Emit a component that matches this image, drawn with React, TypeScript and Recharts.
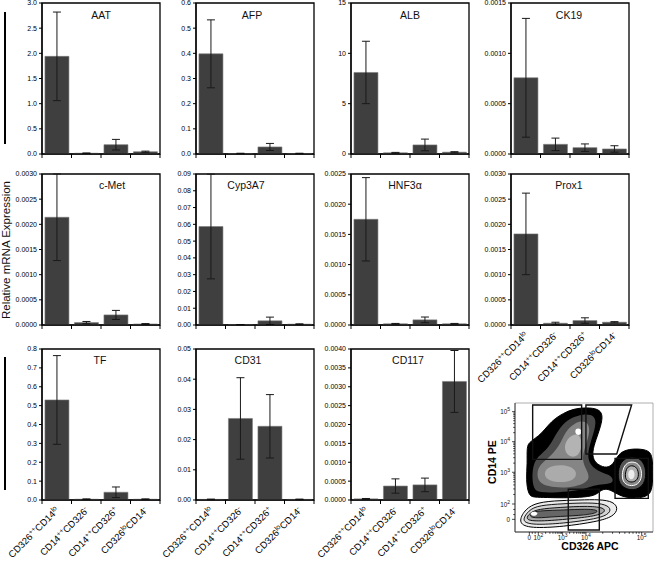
import React from 'react';
import { BarChart, Bar, XAxis, YAxis, ErrorBar, ReferenceArea, ScatterChart, Scatter, Curve } from 'recharts';

const FONT = '"Liberation Sans", Arial, Helvetica, sans-serif';

// ---------- bar chart data ----------
const categories = ['CD326^{++}CD14^{lo}', 'CD14^{++}CD326^{-}', 'CD14^{++}CD326^{+}', 'CD326^{lo}CD14^{-}'];

const aatMean = [1.94, 0.015, 0.185, 0.045];
const aatErr = [0.88, 0.006, 0.105, 0.012];
const afpMean = [0.398, 0.002, 0.028, 0.002];
const afpErr = [0.135, 0.001, 0.014, 0.001];
const albMean = [8.1, 0.12, 0.9, 0.18];
const albErr = [3.1, 0.04, 0.58, 0.05];
const ck19Mean = [0.000757, 0.000096, 0.000063, 0.00005];
const ck19Err = [0.00059, 0.000062, 0.000037, 0.000032];
const cmetMean = [0.00214, 0.000048, 0.0002, 0.00002];
const cmetErr = [0.00086, 0.000022, 0.00009, 0.000008];
const cyp3a7Mean = [0.0587, 0.0002, 0.0025, 0.0005];
const cyp3a7Err = [0.0312, 0.0001, 0.0022, 0.0002];
const hnf3aMean = [0.00175, 0.00002, 0.000085, 0.00002];
const hnf3aErr = [0.00069, 0.000006, 0.000047, 0.000006];
const prox1Mean = [0.00181, 0.000035, 0.000088, 0.000055];
const prox1Err = [0.00081, 0.00002, 0.000055, 0.000012];
const tfMean = [0.53, 0.004, 0.041, 0.004];
const tfErr = [0.235, 0.002, 0.028, 0.002];
const cd31Mean = [0.0002, 0.027, 0.0244, 0.0002];
const cd31Err = [0.0001, 0.0135, 0.0105, 0.0001];
const cd117Mean = [0.00003, 0.00037, 0.0004, 0.00314];
const cd117Err = [0.00001, 0.00019, 0.00018, 0.00082];

const aatTicks = [0, 0.5, 1.0, 1.5, 2.0, 2.5, 3.0];
const afpTicks = [0, 0.1, 0.2, 0.3, 0.4, 0.5, 0.6];
const albTicks = [0, 5, 10, 15];
const ck19Ticks = [0, 0.0005, 0.001, 0.0015];
const cmetTicks = [0, 0.0005, 0.001, 0.0015, 0.002, 0.0025, 0.003];
const cyp3a7Ticks = [0, 0.01, 0.02, 0.03, 0.04, 0.05, 0.06, 0.07, 0.08, 0.09];
const hnf3aTicks = [0, 0.0005, 0.001, 0.0015, 0.002, 0.0025];
const prox1Ticks = [0, 0.0005, 0.001, 0.0015, 0.002, 0.0025, 0.003];
const tfTicks = [0, 0.1, 0.2, 0.3, 0.4, 0.5, 0.6, 0.7, 0.8];
const cd31Ticks = [0, 0.01, 0.02, 0.03, 0.04, 0.05];
const cd117Ticks = [0, 0.0005, 0.001, 0.0015, 0.002, 0.0025, 0.003, 0.0035, 0.004];

// ---------- flow cytometry (display units 0-100 on both axes) ----------
const flowXMajor = [10.4, 16.9, 34.5, 51.4, 91.8];
const flowXLabels = ['0', '10^2', '10^3', '10^4', '10^5'];
const flowXMinor = [12.5, 14.6, 22.2, 25.3, 27.5, 29.2, 30.6, 31.8, 32.8, 33.7, 39.6, 42.6, 44.7, 46.3, 47.6, 48.8, 49.8, 50.6, 63.6, 70.7, 75.7, 79.6, 82.8, 85.5, 87.9, 89.9];
const flowYMajor = [9.8, 21.7, 46.3, 70.0, 93.3];
const flowYLabels = ['0', '10^2', '10^3', '10^4', '10^5'];
const flowYMinor = [13.5, 17.5, 29.1, 33.4, 36.5, 38.9, 40.8, 42.5, 43.9, 45.2, 53.4, 57.6, 60.6, 62.9, 64.7, 66.3, 67.7, 68.9, 77.0, 81.1, 84.0, 86.3, 88.1, 89.7, 91.0, 92.2];

const blobOuter = [[9.7, 28.7], [8.0, 40.3], [9.0, 53.2], [8.5, 66.1], [10.5, 69.5], [14.5, 72.5], [19.3, 76.5], [24.2, 83.0], [29.0, 88.0], [35.0, 92.0], [42.3, 95.5], [51.9, 96.5], [60.4, 95.5], [63.8, 91.0], [62.1, 81.7], [58.5, 71.3], [56.0, 62.3], [56.8, 55.8], [60.4, 51.9], [66.4, 49.4], [71.3, 52.5], [74.9, 60.5], [80.9, 64.0], [89.4, 64.6], [96.6, 63.3], [100, 59.0], [100, 34.5], [97.0, 27.8], [88.2, 26.0], [78.5, 27.0], [72.5, 30.5], [66.4, 34.0], [61.6, 32.0], [58.0, 28.0], [47.1, 26.8], [35.0, 26.4], [22.9, 26.8], [13.3, 26.8]];
const blobDark = [[13.3, 32.6], [12.1, 45.5], [14.5, 57.1], [22.9, 63.3], [28.0, 72.3], [32.6, 81.4], [39.9, 88.3], [49.5, 91.7], [58.5, 90.4], [58.5, 81.7], [54.8, 70.0], [52.4, 59.7], [54.3, 51.9], [62.0, 46.0], [70.0, 44.0], [72.0, 38.0], [64.0, 37.0], [58.0, 36.4], [47.1, 32.0], [30.2, 30.6], [18.1, 30.6]];
const blobMid = [[15.9, 37.7], [15.9, 50.6], [24.4, 57.1], [32.6, 67.1], [36.2, 77.5], [43.5, 85.2], [51.9, 86.5], [55.0, 79.1], [50.7, 66.1], [48.3, 55.8], [51.9, 48.1], [55.0, 40.3], [44.7, 34.7], [27.8, 34.1]];
const blobLight1 = [[38.6, 73.6], [45.9, 77.5], [49.3, 68.7], [45.7, 57.4], [37.9, 58.7], [35.2, 66.1]];
const blobLight2 = [[21.9, 50.4], [35.0, 52.9], [45.7, 48.1], [43.3, 39.3], [30.2, 38.0], [20.7, 41.6]];
const blobPeak = [[43.8, 80.5], [47.8, 80.5], [48.5, 76.0], [45.5, 74.8], [43.5, 76.5]];

const rightRingA = [[74.2, 44.2], [76.1, 54.5], [83.3, 58.9], [91.8, 57.1], [95.4, 48.1], [94.2, 36.4], [85.7, 31.3], [76.1, 35.1]];
const rightRingB = [[77.3, 44.2], [79.0, 51.9], [83.8, 55.0], [90.1, 53.2], [92.3, 45.5], [90.6, 37.7], [84.5, 35.1], [78.5, 37.7]];
const rightRingC = [[79.7, 44.2], [80.9, 50.1], [84.5, 51.9], [88.6, 50.1], [89.9, 44.2], [88.2, 39.5], [83.8, 38.2], [80.4, 40.3]];
const rightRingD = [[81.6, 44.2], [82.6, 48.1], [85.3, 48.6], [87.0, 45.5], [86.2, 41.3], [83.3, 40.3]];

const lowRing1 = [[2.4, 6.7], [6.0, 15.8], [13.3, 22.2], [27.8, 24.3], [47.1, 24.8], [61.6, 25.3], [71.3, 23.5], [74.9, 18.3], [71.3, 11.9], [59.2, 8.0], [35.0, 4.1], [10.9, 2.8]];
const lowRing2 = [[4.8, 8.0], [8.5, 15.0], [14.5, 20.2], [30.2, 21.7], [49.5, 22.7], [64.0, 22.2], [70.0, 18.3], [67.6, 13.2], [56.8, 9.8], [35.0, 6.7], [13.3, 5.4]];
const lowRing3 = [[7.2, 9.8], [10.9, 15.0], [16.9, 17.8], [32.6, 19.1], [51.9, 20.2], [64.0, 19.1], [65.9, 15.8], [59.2, 12.4], [37.4, 9.8], [14.5, 8.0]];
const lowRing4 = [[9.7, 11.9], [13.3, 15.8], [19.3, 16.5], [35.0, 17.1], [51.9, 17.8], [60.4, 17.1], [59.2, 14.5], [47.1, 12.7], [27.8, 11.9], [15.7, 10.6]];
const lowPeak = [[10.9, 14.5], [13.3, 16.3], [16.9, 15.0], [15.7, 12.7], [12.1, 12.4]];

const gate1 = [[12.8, 98.4], [48.3, 98.4], [48.3, 56.3], [12.8, 56.3]];
const gate2 = [[51.4, 98.4], [84.5, 98.4], [73.7, 60.5], [51.4, 60.5]];
const gate3 = [[72.5, 57.1], [96.6, 57.1], [96.6, 26.1], [72.5, 26.1]];
const gate4 = [[38.6, 33.1], [61.1, 33.1], [61.1, 1.6], [38.6, 1.6]];

// ---------- layout ----------
const COLS = [42, 196, 351, 511];
const ROWS = [3, 174, 349];
const PW = 118;
const PH = 151;

const panels = [
  { title: 'AAT', mean: aatMean, err: aatErr, ticks: aatTicks, dec: 1, col: 0, row: 0, labels: false, tdx: 0, tdy: 16 },
  { title: 'AFP', mean: afpMean, err: afpErr, ticks: afpTicks, dec: 1, col: 1, row: 0, labels: false, tdx: -3, tdy: 16 },
  { title: 'ALB', mean: albMean, err: albErr, ticks: albTicks, dec: 0, col: 2, row: 0, labels: false, tdx: 0, tdy: 16 },
  { title: 'CK19', mean: ck19Mean, err: ck19Err, ticks: ck19Ticks, dec: 4, col: 3, row: 0, labels: false, tdx: -1, tdy: 16 },
  { title: 'c-Met', mean: cmetMean, err: cmetErr, ticks: cmetTicks, dec: 4, col: 0, row: 1, labels: false, tdx: 11, tdy: 14.5 },
  { title: 'Cyp3A7', mean: cyp3a7Mean, err: cyp3a7Err, ticks: cyp3a7Ticks, dec: 2, col: 1, row: 1, labels: false, tdx: -9, tdy: 14.5 },
  { title: 'HNF3α', mean: hnf3aMean, err: hnf3aErr, ticks: hnf3aTicks, dec: 4, col: 2, row: 1, labels: false, tdx: -5, tdy: 14.5 },
  { title: 'Prox1', mean: prox1Mean, err: prox1Err, ticks: prox1Ticks, dec: 4, col: 3, row: 1, labels: true, tdx: -1, tdy: 14.5 },
  { title: 'TF', mean: tfMean, err: tfErr, ticks: tfTicks, dec: 1, col: 0, row: 2, labels: true, tdx: -1, tdy: 15 },
  { title: 'CD31', mean: cd31Mean, err: cd31Err, ticks: cd31Ticks, dec: 2, col: 1, row: 2, labels: true, tdx: -7, tdy: 15 },
  { title: 'CD117', mean: cd117Mean, err: cd117Err, ticks: cd117Ticks, dec: 4, col: 2, row: 2, labels: true, tdx: -2, tdy: 15 },
];

function parseSup(s: string) {
  const parts: { t: string; sup: boolean }[] = [];
  const re = /\^\{([^}]*)\}/g;
  let last = 0;
  let m: RegExpExecArray | null;
  while ((m = re.exec(s))) {
    if (m.index > last) parts.push({ t: s.slice(last, m.index), sup: false });
    parts.push({ t: m[1], sup: true });
    last = re.lastIndex;
  }
  if (last < s.length) parts.push({ t: s.slice(last), sup: false });
  return parts;
}

function XTick(props: any) {
  const { x, y, payload, index, showLabel } = props;
  const half = PW / 8;
  const parts = parseSup(String(payload.value));
  let prevSup = false;
  const lx = x + 3;
  const ly = y + 11;
  return (
    <g>
      <line x1={x - half} x2={x - half} y1={y} y2={y + 4} stroke="#000" strokeWidth={1} />
      {index === 3 && <line x1={x + half} x2={x + half} y1={y} y2={y + 4} stroke="#000" strokeWidth={1} />}
      {showLabel && (
        <text x={lx} y={ly} textAnchor="end" fontSize={9.5} fontFamily={FONT} fill="#000" transform={`rotate(-45 ${lx} ${ly})`}>
          {parts.map((p, i) => {
            let dy = 0;
            if (p.sup && !prevSup) dy = -3.5;
            if (!p.sup && prevSup) dy = 3.5;
            prevSup = p.sup;
            return (
              <tspan key={i} dy={dy} fontSize={p.sup ? 6.8 : 9.5}>
                {p.t}
              </tspan>
            );
          })}
        </text>
      )}
    </g>
  );
}

function TitleLabel(props: any) {
  const { viewBox, text, dx, dy } = props;
  if (!viewBox) return null;
  return (
    <text x={viewBox.x + viewBox.width / 2 + dx} y={viewBox.y + dy} textAnchor="middle" fontSize={10.5} fontFamily={FONT} fill="#111">
      {text}
    </text>
  );
}

function GenePanel({ p }: { p: any }) {
  const data = categories.map((c, i) => ({ cat: c, v: p.mean[i], e: p.err[i] }));
  const left = COLS[p.col] - 40;
  const top = ROWS[p.row] - 4;
  const xh = p.labels ? 64 : 8;
  const W = 40 + PW + 4;
  const H = 4 + PH + xh;
  const max = p.ticks[p.ticks.length - 1];
  return (
    <div style={{ position: 'absolute', left, top, width: W, height: H }}>
      <BarChart width={W} height={H} data={data} margin={{ top: 4, right: 4, bottom: 0, left: 0 }} barCategoryGap="10%">
        <XAxis
          dataKey="cat"
          type="category"
          interval={0}
          height={xh}
          tickLine={false}
          tickSize={0}
          tickMargin={0}
          axisLine={{ stroke: '#000', strokeWidth: 1.2 }}
          tick={(t: any) => <XTick {...t} showLabel={p.labels} />}
        />
        <YAxis
          type="number"
          width={40}
          domain={[0, max]}
          ticks={p.ticks}
          allowDataOverflow
          interval={0}
          tickSize={3}
          tickMargin={2}
          tickLine={{ stroke: '#000' }}
          axisLine={{ stroke: '#000', strokeWidth: 1.2 }}
          tick={{ fontSize: 7, fill: '#000', fontFamily: FONT }}
          tickFormatter={(v: any) => Number(v).toFixed(p.dec)}
        />
        <Bar dataKey="v" fill="#3f3f3f" stroke="#7a7a7a" strokeWidth={0.6} isAnimationActive={false}>
          <ErrorBar dataKey="e" width={4} stroke="#1a1a1a" strokeWidth={1} direction="y" />
        </Bar>
        <ReferenceArea
          y1={0}
          y2={max}
          fill="none"
          fillOpacity={0}
          stroke="#000"
          strokeWidth={1.3}
          ifOverflow="visible"
          label={<TitleLabel text={p.title} dx={p.tdx} dy={p.tdy} />}
        />
      </BarChart>
    </div>
  );
}

const EmptyShape = () => <g />;
const toPts = (arr: number[][]) => arr.map(([x, y]) => ({ x, y }));

function polyLayer(key: string, pts: number[][], fill: string, stroke: string, sw: number, curve: any) {
  return (
    <Scatter
      key={key}
      data={toPts(pts)}
      isAnimationActive={false}
      shape={EmptyShape}
      lineType="joint"
      line={(lp: any) => <Curve points={lp.points} type={curve} fill={fill} stroke={stroke} strokeWidth={sw} />}
    />
  );
}

function ExpText({ label }: { label: string }) {
  if (label.indexOf('^') < 0) return <tspan>{label}</tspan>;
  const [b, e] = label.split('^');
  return (
    <>
      <tspan>{b}</tspan>
      <tspan dy={-3} fontSize={5}>
        {e}
      </tspan>
    </>
  );
}

function FlowXTick(props: any) {
  const { x, y, payload } = props;
  const idx = flowXMajor.indexOf(payload.value);
  const major = idx >= 0;
  return (
    <g>
      <line x1={x} x2={x} y1={y} y2={y + (major ? 3 : 1.8)} stroke="#000" strokeWidth={0.7} />
      {major && (
        <text x={x} y={y + 8} textAnchor="middle" fontSize={6.3} fontFamily={FONT} fill="#111">
          <ExpText label={flowXLabels[idx]} />
        </text>
      )}
    </g>
  );
}

function FlowYTick(props: any) {
  const { x, y, payload } = props;
  const idx = flowYMajor.indexOf(payload.value);
  const major = idx >= 0;
  return (
    <g>
      <line x1={x} x2={x - (major ? 3 : 1.8)} y1={y} y2={y} stroke="#000" strokeWidth={0.7} />
      {major && (
        <text x={x - 5} y={y + 2.5} textAnchor="end" fontSize={6.3} fontFamily={FONT} fill="#111">
          <ExpText label={flowYLabels[idx]} />
        </text>
      )}
    </g>
  );
}

function FlowXLabel(props: any) {
  const { viewBox } = props;
  if (!viewBox) return null;
  return (
    <text x={viewBox.x + viewBox.width / 2 + 6} y={viewBox.y + 18} textAnchor="middle" fontSize={10.5} fontWeight="bold" fontFamily={FONT} fill="#000">
      CD326 APC
    </text>
  );
}

function FlowYLabel(props: any) {
  const { viewBox } = props;
  if (!viewBox) return null;
  const x = viewBox.x + 26;
  const y = viewBox.y + viewBox.height / 2 - 5.5;
  return (
    <text x={x} y={y} textAnchor="middle" fontSize={10.5} fontWeight="bold" fontFamily={FONT} fill="#000" transform={`rotate(-90 ${x} ${y})`}>
      CD14 PE
    </text>
  );
}

function FlowPanel() {
  const xTicks = [...flowXMajor, ...flowXMinor].sort((a, b) => a - b);
  const yTicks = [...flowYMajor, ...flowYMinor].sort((a, b) => a - b);
  return (
    <div style={{ position: 'absolute', left: 470, top: 398, width: 184, height: 165 }}>
      <ScatterChart width={184} height={165} margin={{ top: 5, right: 1, bottom: 0, left: 0 }}>
        <XAxis
          type="number"
          dataKey="x"
          domain={[0, 100]}
          ticks={xTicks}
          interval={0}
          allowDataOverflow
          height={31}
          tickLine={false}
          tickSize={0}
          tickMargin={0}
          axisLine={{ stroke: '#222', strokeWidth: 0.8 }}
          tick={(t: any) => <FlowXTick {...t} />}
          label={<FlowXLabel />}
        />
        <YAxis
          type="number"
          dataKey="y"
          domain={[0, 100]}
          ticks={yTicks}
          interval={0}
          allowDataOverflow
          width={45}
          tickLine={false}
          tickSize={0}
          tickMargin={0}
          axisLine={{ stroke: '#222', strokeWidth: 0.8 }}
          tick={(t: any) => <FlowYTick {...t} />}
          label={<FlowYLabel />}
        />
        {polyLayer('outer', blobOuter, '#000', '#000', 1, 'basisClosed')}
        {polyLayer('dark', blobDark, '#4a4a4a', 'none', 0, 'basisClosed')}
        {polyLayer('mid', blobMid, '#858585', 'none', 0, 'basisClosed')}
        {polyLayer('light1', blobLight1, '#b3b3b3', 'none', 0, 'basisClosed')}
        {polyLayer('light2', blobLight2, '#ababab', 'none', 0, 'basisClosed')}
        {polyLayer('peak', blobPeak, '#ffffff', 'none', 0, 'basisClosed')}
        {polyLayer('rA', rightRingA, '#555555', '#000', 1, 'basisClosed')}
        {polyLayer('rB', rightRingB, '#8a8a8a', '#ffffff', 1, 'basisClosed')}
        {polyLayer('rC', rightRingC, '#b0b0b0', '#000', 1, 'basisClosed')}
        {polyLayer('rD', rightRingD, '#eeeeee', 'none', 0, 'basisClosed')}
        {polyLayer('l1', lowRing1, '#ececec', '#000', 1, 'basisClosed')}
        {polyLayer('l2', lowRing2, '#d4d4d4', '#000', 0.9, 'basisClosed')}
        {polyLayer('l3', lowRing3, '#a8a8a8', '#000', 0.9, 'basisClosed')}
        {polyLayer('l4', lowRing4, '#666666', '#000', 0.8, 'basisClosed')}
        {polyLayer('lp', lowPeak, '#ffffff', 'none', 0, 'basisClosed')}
        {polyLayer('g1', gate1, 'none', '#111', 1.4, 'linearClosed')}
        {polyLayer('g2', gate2, 'none', '#111', 1.4, 'linearClosed')}
        {polyLayer('g3', gate3, 'none', '#111', 1.4, 'linearClosed')}
        {polyLayer('g4', gate4, 'none', '#111', 1.4, 'linearClosed')}
        <ReferenceArea x1={0} x2={100} y1={0} y2={100} fill="none" fillOpacity={0} stroke="#999" strokeWidth={0.8} ifOverflow="visible" />
      </ScatterChart>
    </div>
  );
}

export default function App() {
  return (
    <div style={{ position: 'absolute', left: 0, top: 0, width: 654, height: 563, background: '#fff', fontFamily: FONT, overflow: 'hidden' }}>
      <svg width={654} height={563} style={{ position: 'absolute', left: 0, top: 0 }}>
        <line x1={5} x2={5} y1={12} y2={144} stroke="#000" strokeWidth={2} />
        <line x1={5} x2={5} y1={357} y2={490} stroke="#000" strokeWidth={2} />
        <text x={10} y={250} textAnchor="middle" fontSize={11.5} fontFamily={FONT} fill="#111" transform="rotate(-90 10 250)">
          Relative mRNA Expression
        </text>
      </svg>
      {panels.map((p) => (
        <GenePanel key={p.title} p={p} />
      ))}
      <FlowPanel />
    </div>
  );
}
